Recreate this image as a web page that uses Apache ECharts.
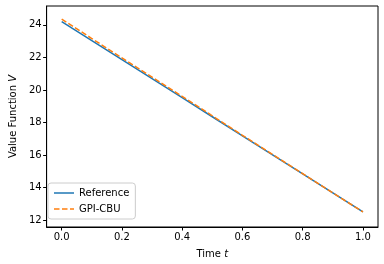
<!DOCTYPE html>
<html><head><meta charset="utf-8">
<script src="https://cdn.jsdelivr.net/npm/echarts@6/dist/echarts.min.js"></script>
<style>html,body{margin:0;padding:0;background:#fff}#c{width:384px;height:264px}</style>
</head><body><div id="c"></div>
<script>
const times = [0, 0.1, 0.2, 0.3, 0.4, 0.5, 0.6, 0.7, 0.8, 0.9, 1.0];
const referenceV = [24.2, 23.03, 21.86, 20.69, 19.52, 18.35, 17.18, 16.01, 14.84, 13.67, 12.5];
const gpiCbuV = [24.35, 23.16, 21.97, 20.79, 19.6, 18.41, 17.21, 16.03, 14.85, 13.67, 12.5];
const gpiBandHalf = [0.25, 0.21, 0.17, 0.13, 0.09, 0.06, 0.03, 0.02, 0.01, 0.0, 0.0];
const xTicks = [0, 0.2, 0.4, 0.6, 0.8, 1.0];
const yTicks = [12, 14, 16, 18, 20, 22, 24];

const lower = times.map((t, i) => [t, gpiCbuV[i] - gpiBandHalf[i]]);
const width = times.map((t, i) => [t, 2 * gpiBandHalf[i]]);
const font = 'DejaVu Sans';
const chart = echarts.init(document.getElementById('c'), null, {renderer: 'canvas'});
chart.setOption({
  animation: false,
  grid: {left: 43, right: 6, top: 6, bottom: 35, show: true, borderColor: '#000', borderWidth: 1},
  xAxis: {
    type: 'value', min: -0.05, max: 1.05,
    name: '{n|Time }{i|t}', nameLocation: 'middle', nameGap: 22,
    nameTextStyle: {rich: {n: {fontFamily: font, fontSize: 10, color: '#000'}, i: {fontFamily: font, fontSize: 10, fontStyle: 'italic', color: '#000'}}},
    axisLine: {show: true, onZero: false, lineStyle: {color: '#000', width: 1}},
    axisTick: {show: true, length: 3.5, lineStyle: {color: '#000'}, customValues: xTicks},
    axisLabel: {fontFamily: font, fontSize: 10, color: '#000', margin: 5, customValues: xTicks, formatter: v => v.toFixed(1)},
    splitLine: {show: false}
  },
  yAxis: {
    type: 'value', min: 11.57, max: 25.16,
    name: '{n|Value Function }{i|V}', nameLocation: 'middle', nameGap: 28, nameRotate: 90,
    nameTextStyle: {rich: {n: {fontFamily: font, fontSize: 10, color: '#000'}, i: {fontFamily: font, fontSize: 10, fontStyle: 'italic', color: '#000'}}},
    axisLine: {show: true, onZero: false, lineStyle: {color: '#000', width: 1}},
    axisTick: {show: true, length: 3.5, lineStyle: {color: '#000'}, customValues: yTicks},
    axisLabel: {fontFamily: font, fontSize: 10, color: '#000', margin: 5, customValues: yTicks, formatter: v => String(v)},
    splitLine: {show: false}
  },
  legend: {
    left: 48, bottom: 45, orient: 'vertical', itemGap: 6, itemWidth: 20, itemHeight: 1.5,
    padding: [5, 6, 5, 6], borderColor: '#ccc', borderWidth: 1, borderRadius: 3, backgroundColor: 'rgba(255,255,255,0.8)',
    textStyle: {fontFamily: font, fontSize: 10, color: '#000'},
    data: [
      {name: 'Reference', icon: 'path://M0,0H20V1.5H0Z', itemStyle: {color: '#1f77b4'}},
      {name: 'GPI-CBU', icon: 'path://M0,0H5.5V1.5H0Z M8,0H13.5V1.5H8Z M16,0H20V1.5H16Z', itemStyle: {color: '#ff7f0e'}}
    ]
  },
  series: [
    {name: 'bandLower', type: 'line', data: lower, stack: 'band', showSymbol: false, symbol: 'none', lineStyle: {opacity: 0}, silent: true},
    {name: 'bandWidth', type: 'line', data: width, stack: 'band', showSymbol: false, symbol: 'none', lineStyle: {opacity: 0}, areaStyle: {color: 'rgba(255,127,14,0.3)'}, silent: true},
    {name: 'Reference', type: 'line', data: times.map((t, i) => [t, referenceV[i]]), showSymbol: false, symbol: 'none', lineStyle: {color: '#1f77b4', width: 1.5}, itemStyle: {color: '#1f77b4'}},
    {name: 'GPI-CBU', type: 'line', data: times.map((t, i) => [t, gpiCbuV[i]]), showSymbol: false, symbol: 'none', lineStyle: {color: '#ff7f0e', width: 1.5, type: [5.5, 2.4]}, itemStyle: {color: '#ff7f0e'}}
  ]
});
</script></body></html>
